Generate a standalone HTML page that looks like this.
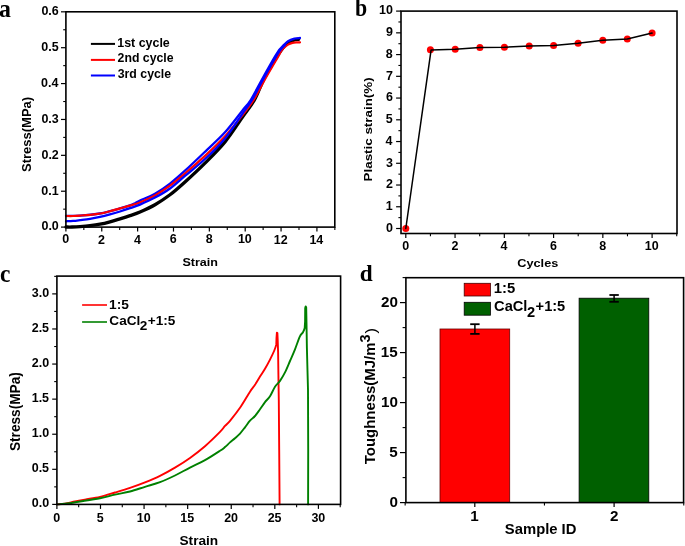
<!DOCTYPE html>
<html><head><meta charset="utf-8"><style>
html,body{margin:0;padding:0;background:#fff;}
body{width:685px;height:546px;overflow:hidden;}
svg{display:block;will-change:transform;}
</style></head><body>
<svg width="685" height="546" viewBox="0 0 685 546">
<rect width="685" height="546" fill="#fff"/>
<path d="M66,227 C67,227 69.67,227.07 72,227 C74.33,226.93 77,226.82 80,226.6 C83,226.38 86.67,226.1 90,225.7 C93.33,225.3 96.67,224.85 100,224.2 C103.33,223.55 106.67,222.7 110,221.8 C113.33,220.9 116.67,219.83 120,218.8 C123.33,217.77 126.67,216.73 130,215.6 C133.33,214.47 135.83,213.82 140,212 C144.17,210.18 150,207.57 155,204.7 C160,201.83 165,198.58 170,194.8 C175,191.02 179.17,187.28 185,182 C190.83,176.72 198.33,169.78 205,163.1 C211.67,156.42 218.75,149.57 225,141.9 C231.25,134.23 237.6,124.08 242.5,117.1 C247.4,110.12 250.9,106.18 254.4,100 C257.9,93.82 260.1,86.67 263.5,80 C266.9,73.33 271.88,64.92 274.8,60 C277.72,55.08 278.8,53.37 281,50.5 C283.2,47.63 285.72,44.58 288,42.8 C290.28,41.02 292.93,40.38 294.7,39.8 C296.47,39.22 297.95,39.38 298.6,39.3" fill="none" stroke="#000" stroke-width="3.3" stroke-linejoin="round" stroke-linecap="round"/>
<path d="M66,216 C68.33,215.93 74.33,216.02 80,215.6 C85.67,215.18 95,214.23 100,213.5 C105,212.77 106.67,212.05 110,211.2 C113.33,210.35 116.67,209.38 120,208.4 C123.33,207.42 127.5,206.17 130,205.3 C132.5,204.43 133.33,203.98 135,203.2 C136.67,202.42 136.67,202.18 140,200.6 C143.33,199.02 150,196.53 155,193.7 C160,190.87 165,187.43 170,183.6 C175,179.77 179.17,176 185,170.7 C190.83,165.4 198.33,158.2 205,151.8 C211.67,145.4 218.75,139.2 225,132.3 C231.25,125.4 238.22,115.78 242.5,110.4 C246.78,105.02 247.5,105.07 250.7,100 C253.9,94.93 258,86.67 261.7,80 C265.4,73.33 270.25,64.62 272.9,60 C275.55,55.38 276.33,54.2 277.6,52.3 C278.87,50.4 278.75,50.43 280.5,48.6 C282.25,46.77 285.73,42.98 288.1,41.3 C290.47,39.62 292.72,39.05 294.7,38.5 C296.68,37.95 299.12,38.08 300,38" fill="none" stroke="#0000ff" stroke-width="2.3" stroke-linejoin="round" stroke-linecap="round"/>
<path d="M66,216 C67.17,216 70.67,216.07 73,216 C75.33,215.93 77.17,215.8 80,215.6 C82.83,215.4 86.67,215.15 90,214.8 C93.33,214.45 96.67,214.1 100,213.5 C103.33,212.9 106.67,212.05 110,211.2 C113.33,210.35 116.67,209.33 120,208.4 C123.33,207.47 126.67,206.6 130,205.6 C133.33,204.6 135.83,204.08 140,202.4 C144.17,200.72 150,198.28 155,195.5 C160,192.72 165,189.37 170,185.7 C175,182.03 179.17,178.47 185,173.5 C190.83,168.53 198.33,162.12 205,155.9 C211.67,149.68 218.75,142.98 225,136.2 C231.25,129.42 237.72,121.23 242.5,115.2 C247.28,109.17 250.02,105.87 253.7,100 C257.38,94.13 260.85,86.67 264.6,80 C268.35,73.33 273.37,64.92 276.2,60 C279.03,55.08 280.33,52.52 281.6,50.5 C282.87,48.48 282.72,48.88 283.8,47.9 C284.88,46.92 286.65,45.43 288.1,44.6 C289.55,43.77 291.03,43.27 292.5,42.9 C293.97,42.53 295.65,42.5 296.9,42.4 C298.15,42.3 299.48,42.32 300,42.3" fill="none" stroke="#ff0000" stroke-width="2.2" stroke-linejoin="round" stroke-linecap="round"/>
<path d="M66,221.3 C67.17,221.23 70.67,221.1 73,220.9 C75.33,220.7 77.17,220.45 80,220.1 C82.83,219.75 86.67,219.33 90,218.8 C93.33,218.27 96.67,217.63 100,216.9 C103.33,216.17 106.67,215.3 110,214.4 C113.33,213.5 116.67,212.53 120,211.5 C123.33,210.47 126.67,209.35 130,208.2 C133.33,207.05 135.83,206.37 140,204.6 C144.17,202.83 150,200.28 155,197.6 C160,194.92 165,192.12 170,188.5 C175,184.88 179.17,180.82 185,175.9 C190.83,170.98 198.33,165.25 205,159 C211.67,152.75 218.75,145.97 225,138.4 C231.25,130.83 238,120 242.5,113.6 C247,107.2 248.62,105.6 252,100 C255.38,94.4 259.13,86.67 262.8,80 C266.47,73.33 271.22,64.83 274,60 C276.78,55.17 277.67,53.5 279.5,51 C281.33,48.5 284.08,46 285,45" fill="none" stroke="#0000ff" stroke-width="2.3" stroke-linejoin="round" stroke-linecap="round"/>
<rect x="65.9" y="11.8" width="268.9" height="215.3" fill="none" stroke="#000" stroke-width="1.6"/>
<line x1="61" y1="227.1" x2="65.9" y2="227.1" stroke="#000" stroke-width="1.2"/>
<text transform="translate(41.46 230.38) scale(1.0400 1)" font-size="12.00" font-weight="bold" font-family='"Liberation Sans", sans-serif'>0.0</text>
<line x1="61" y1="191.22" x2="65.9" y2="191.22" stroke="#000" stroke-width="1.2"/>
<text transform="translate(41.3 194.5) scale(1.0400 1)" font-size="12.00" font-weight="bold" font-family='"Liberation Sans", sans-serif'>0.1</text>
<line x1="61" y1="155.34" x2="65.9" y2="155.34" stroke="#000" stroke-width="1.2"/>
<text transform="translate(41.45 158.62) scale(1.0400 1)" font-size="12.00" font-weight="bold" font-family='"Liberation Sans", sans-serif'>0.2</text>
<line x1="61" y1="119.46" x2="65.9" y2="119.46" stroke="#000" stroke-width="1.2"/>
<text transform="translate(41.4 122.73) scale(1.0400 1)" font-size="12.00" font-weight="bold" font-family='"Liberation Sans", sans-serif'>0.3</text>
<line x1="61" y1="83.58" x2="65.9" y2="83.58" stroke="#000" stroke-width="1.2"/>
<text transform="translate(41.02 86.86) scale(1.0400 1)" font-size="12.00" font-weight="bold" font-family='"Liberation Sans", sans-serif'>0.4</text>
<line x1="61" y1="47.7" x2="65.9" y2="47.7" stroke="#000" stroke-width="1.2"/>
<text transform="translate(41.3 50.98) scale(1.0400 1)" font-size="12.00" font-weight="bold" font-family='"Liberation Sans", sans-serif'>0.5</text>
<line x1="61" y1="11.82" x2="65.9" y2="11.82" stroke="#000" stroke-width="1.2"/>
<text transform="translate(41.4 15.1) scale(1.0400 1)" font-size="12.00" font-weight="bold" font-family='"Liberation Sans", sans-serif'>0.6</text>
<line x1="63.2" y1="209.16" x2="65.9" y2="209.16" stroke="#000" stroke-width="1.1"/>
<line x1="63.2" y1="173.28" x2="65.9" y2="173.28" stroke="#000" stroke-width="1.1"/>
<line x1="63.2" y1="137.4" x2="65.9" y2="137.4" stroke="#000" stroke-width="1.1"/>
<line x1="63.2" y1="101.52" x2="65.9" y2="101.52" stroke="#000" stroke-width="1.1"/>
<line x1="63.2" y1="65.64" x2="65.9" y2="65.64" stroke="#000" stroke-width="1.1"/>
<line x1="63.2" y1="29.76" x2="65.9" y2="29.76" stroke="#000" stroke-width="1.1"/>
<line x1="65.9" y1="227.1" x2="65.9" y2="231.6" stroke="#000" stroke-width="1.2"/>
<text transform="translate(62.24 243.48) scale(1.0400 1)" font-size="12.00" font-weight="bold" font-family='"Liberation Sans", sans-serif'>0</text>
<line x1="101.76" y1="227.1" x2="101.76" y2="231.6" stroke="#000" stroke-width="1.2"/>
<text transform="translate(98.12 243.6) scale(1.0400 1)" font-size="12.00" font-weight="bold" font-family='"Liberation Sans", sans-serif'>2</text>
<line x1="137.62" y1="227.1" x2="137.62" y2="231.6" stroke="#000" stroke-width="1.2"/>
<text transform="translate(133.89 243.6) scale(1.0400 1)" font-size="12.00" font-weight="bold" font-family='"Liberation Sans", sans-serif'>4</text>
<line x1="173.48" y1="227.1" x2="173.48" y2="231.6" stroke="#000" stroke-width="1.2"/>
<text transform="translate(169.8 243.48) scale(1.0400 1)" font-size="12.00" font-weight="bold" font-family='"Liberation Sans", sans-serif'>6</text>
<line x1="209.34" y1="227.1" x2="209.34" y2="231.6" stroke="#000" stroke-width="1.2"/>
<text transform="translate(205.66 243.48) scale(1.0400 1)" font-size="12.00" font-weight="bold" font-family='"Liberation Sans", sans-serif'>8</text>
<line x1="245.2" y1="227.1" x2="245.2" y2="231.6" stroke="#000" stroke-width="1.2"/>
<text transform="translate(237.92 243.48) scale(1.0400 1)" font-size="12.00" font-weight="bold" font-family='"Liberation Sans", sans-serif'>10</text>
<line x1="281.06" y1="227.1" x2="281.06" y2="231.6" stroke="#000" stroke-width="1.2"/>
<text transform="translate(273.78 243.6) scale(1.0400 1)" font-size="12.00" font-weight="bold" font-family='"Liberation Sans", sans-serif'>12</text>
<line x1="316.92" y1="227.1" x2="316.92" y2="231.6" stroke="#000" stroke-width="1.2"/>
<text transform="translate(309.42 243.6) scale(1.0400 1)" font-size="12.00" font-weight="bold" font-family='"Liberation Sans", sans-serif'>14</text>
<line x1="83.83" y1="227.1" x2="83.83" y2="229.9" stroke="#000" stroke-width="1.1"/>
<line x1="119.69" y1="227.1" x2="119.69" y2="229.9" stroke="#000" stroke-width="1.1"/>
<line x1="155.55" y1="227.1" x2="155.55" y2="229.9" stroke="#000" stroke-width="1.1"/>
<line x1="191.41" y1="227.1" x2="191.41" y2="229.9" stroke="#000" stroke-width="1.1"/>
<line x1="227.27" y1="227.1" x2="227.27" y2="229.9" stroke="#000" stroke-width="1.1"/>
<line x1="263.13" y1="227.1" x2="263.13" y2="229.9" stroke="#000" stroke-width="1.1"/>
<line x1="298.99" y1="227.1" x2="298.99" y2="229.9" stroke="#000" stroke-width="1.1"/>
<line x1="334.85" y1="227.1" x2="334.85" y2="229.9" stroke="#000" stroke-width="1.1"/>
<text transform="translate(182.44 265.78) scale(1.0718 1)" font-size="11.70" font-weight="bold" font-family='"Liberation Sans", sans-serif'>Strain</text>
<text transform="translate(31.15 171.98) rotate(-90) scale(1.0204 1)" font-size="12.75" font-weight="bold" font-family='"Liberation Sans", sans-serif'>Stress(MPa)</text>
<line x1="90.9" y1="43.9" x2="115" y2="43.9" stroke="#000" stroke-width="2.0"/>
<text transform="translate(117.22 46.79) scale(1.0043 1)" font-size="12.40" font-weight="bold" font-family='"Liberation Sans", sans-serif'>1st cycle</text>
<line x1="90.9" y1="59.9" x2="115" y2="59.9" stroke="#ff0000" stroke-width="2.0"/>
<text transform="translate(117.57 62.49) scale(0.9918 1)" font-size="12.40" font-weight="bold" font-family='"Liberation Sans", sans-serif'>2nd cycle</text>
<line x1="90.9" y1="75.5" x2="115" y2="75.5" stroke="#0000ff" stroke-width="2.0"/>
<text transform="translate(117.72 78.19) scale(1.0063 1)" font-size="12.26" font-weight="bold" font-family='"Liberation Sans", sans-serif'>3rd cycle</text>
<text transform="translate(-1.06 16.94) scale(0.9210 1)" font-size="25.89" font-weight="bold" font-family='"Liberation Serif", serif'>a</text>
<rect x="401" y="11.1" width="276" height="222.4" fill="none" stroke="#000" stroke-width="1.6"/>
<line x1="396.1" y1="228.5" x2="401" y2="228.5" stroke="#000" stroke-width="1.2"/>
<text transform="translate(385.97 231.78) scale(1.0400 1)" font-size="12.00" font-weight="bold" font-family='"Liberation Sans", sans-serif'>0</text>
<line x1="396.1" y1="206.76" x2="401" y2="206.76" stroke="#000" stroke-width="1.2"/>
<text transform="translate(385.81 210.16) scale(1.0400 1)" font-size="12.00" font-weight="bold" font-family='"Liberation Sans", sans-serif'>1</text>
<line x1="396.1" y1="185.02" x2="401" y2="185.02" stroke="#000" stroke-width="1.2"/>
<text transform="translate(385.96 188.42) scale(1.0400 1)" font-size="12.00" font-weight="bold" font-family='"Liberation Sans", sans-serif'>2</text>
<line x1="396.1" y1="163.28" x2="401" y2="163.28" stroke="#000" stroke-width="1.2"/>
<text transform="translate(385.91 166.55) scale(1.0400 1)" font-size="12.00" font-weight="bold" font-family='"Liberation Sans", sans-serif'>3</text>
<line x1="396.1" y1="141.54" x2="401" y2="141.54" stroke="#000" stroke-width="1.2"/>
<text transform="translate(385.52 144.94) scale(1.0400 1)" font-size="12.00" font-weight="bold" font-family='"Liberation Sans", sans-serif'>4</text>
<line x1="396.1" y1="119.8" x2="401" y2="119.8" stroke="#000" stroke-width="1.2"/>
<text transform="translate(385.81 123.08) scale(1.0400 1)" font-size="12.00" font-weight="bold" font-family='"Liberation Sans", sans-serif'>5</text>
<line x1="396.1" y1="98.06" x2="401" y2="98.06" stroke="#000" stroke-width="1.2"/>
<text transform="translate(385.91 101.34) scale(1.0400 1)" font-size="12.00" font-weight="bold" font-family='"Liberation Sans", sans-serif'>6</text>
<line x1="396.1" y1="76.32" x2="401" y2="76.32" stroke="#000" stroke-width="1.2"/>
<text transform="translate(386.01 79.72) scale(1.0400 1)" font-size="12.00" font-weight="bold" font-family='"Liberation Sans", sans-serif'>7</text>
<line x1="396.1" y1="54.58" x2="401" y2="54.58" stroke="#000" stroke-width="1.2"/>
<text transform="translate(385.85 57.86) scale(1.0400 1)" font-size="12.00" font-weight="bold" font-family='"Liberation Sans", sans-serif'>8</text>
<line x1="396.1" y1="32.84" x2="401" y2="32.84" stroke="#000" stroke-width="1.2"/>
<text transform="translate(385.92 36.12) scale(1.0400 1)" font-size="12.00" font-weight="bold" font-family='"Liberation Sans", sans-serif'>9</text>
<line x1="396.1" y1="11.1" x2="401" y2="11.1" stroke="#000" stroke-width="1.2"/>
<text transform="translate(379.03 14.38) scale(1.0400 1)" font-size="12.00" font-weight="bold" font-family='"Liberation Sans", sans-serif'>10</text>
<line x1="398.4" y1="217.63" x2="401" y2="217.63" stroke="#000" stroke-width="1.1"/>
<line x1="398.4" y1="195.89" x2="401" y2="195.89" stroke="#000" stroke-width="1.1"/>
<line x1="398.4" y1="174.15" x2="401" y2="174.15" stroke="#000" stroke-width="1.1"/>
<line x1="398.4" y1="152.41" x2="401" y2="152.41" stroke="#000" stroke-width="1.1"/>
<line x1="398.4" y1="130.67" x2="401" y2="130.67" stroke="#000" stroke-width="1.1"/>
<line x1="398.4" y1="108.93" x2="401" y2="108.93" stroke="#000" stroke-width="1.1"/>
<line x1="398.4" y1="87.19" x2="401" y2="87.19" stroke="#000" stroke-width="1.1"/>
<line x1="398.4" y1="65.45" x2="401" y2="65.45" stroke="#000" stroke-width="1.1"/>
<line x1="398.4" y1="43.71" x2="401" y2="43.71" stroke="#000" stroke-width="1.1"/>
<line x1="398.4" y1="21.97" x2="401" y2="21.97" stroke="#000" stroke-width="1.1"/>
<line x1="405.8" y1="233.5" x2="405.8" y2="238" stroke="#000" stroke-width="1.2"/>
<text transform="translate(402.14 249.68) scale(1.0400 1)" font-size="12.00" font-weight="bold" font-family='"Liberation Sans", sans-serif'>0</text>
<line x1="455.06" y1="233.5" x2="455.06" y2="238" stroke="#000" stroke-width="1.2"/>
<text transform="translate(451.42 249.8) scale(1.0400 1)" font-size="12.00" font-weight="bold" font-family='"Liberation Sans", sans-serif'>2</text>
<line x1="504.32" y1="233.5" x2="504.32" y2="238" stroke="#000" stroke-width="1.2"/>
<text transform="translate(500.59 249.8) scale(1.0400 1)" font-size="12.00" font-weight="bold" font-family='"Liberation Sans", sans-serif'>4</text>
<line x1="553.58" y1="233.5" x2="553.58" y2="238" stroke="#000" stroke-width="1.2"/>
<text transform="translate(549.9 249.68) scale(1.0400 1)" font-size="12.00" font-weight="bold" font-family='"Liberation Sans", sans-serif'>6</text>
<line x1="602.84" y1="233.5" x2="602.84" y2="238" stroke="#000" stroke-width="1.2"/>
<text transform="translate(599.16 249.68) scale(1.0400 1)" font-size="12.00" font-weight="bold" font-family='"Liberation Sans", sans-serif'>8</text>
<line x1="652.1" y1="233.5" x2="652.1" y2="238" stroke="#000" stroke-width="1.2"/>
<text transform="translate(644.82 249.68) scale(1.0400 1)" font-size="12.00" font-weight="bold" font-family='"Liberation Sans", sans-serif'>10</text>
<line x1="430.43" y1="233.5" x2="430.43" y2="236.3" stroke="#000" stroke-width="1.1"/>
<line x1="479.69" y1="233.5" x2="479.69" y2="236.3" stroke="#000" stroke-width="1.1"/>
<line x1="528.95" y1="233.5" x2="528.95" y2="236.3" stroke="#000" stroke-width="1.1"/>
<line x1="578.21" y1="233.5" x2="578.21" y2="236.3" stroke="#000" stroke-width="1.1"/>
<line x1="627.47" y1="233.5" x2="627.47" y2="236.3" stroke="#000" stroke-width="1.1"/>
<line x1="676.73" y1="233.5" x2="676.73" y2="236.3" stroke="#000" stroke-width="1.1"/>
<circle cx="405.8" cy="228.5" r="3.5" fill="#ff0000"/>
<circle cx="430.4" cy="49.7" r="3.5" fill="#ff0000"/>
<circle cx="455.2" cy="49.3" r="3.5" fill="#ff0000"/>
<circle cx="479.9" cy="47.6" r="3.5" fill="#ff0000"/>
<circle cx="504.4" cy="47.3" r="3.5" fill="#ff0000"/>
<circle cx="529.2" cy="45.9" r="3.5" fill="#ff0000"/>
<circle cx="553.6" cy="45.6" r="3.5" fill="#ff0000"/>
<circle cx="578.1" cy="43.3" r="3.5" fill="#ff0000"/>
<circle cx="602.8" cy="40.3" r="3.5" fill="#ff0000"/>
<circle cx="627.3" cy="38.9" r="3.5" fill="#ff0000"/>
<circle cx="652.1" cy="33.1" r="3.5" fill="#ff0000"/>
<polyline points="405.8,228.5 431.1,49.9 455.2,49.3 479.9,47.6 504.4,47.3 529.2,45.9 553.6,45.6 578.1,43.3 602.8,40.3 627.3,38.9 652.1,33.1" fill="none" stroke="#000" stroke-width="1.5" stroke-linejoin="round" stroke-linecap="round" />
<text transform="translate(517.28 267.06) scale(1.1312 1)" font-size="11.25" font-weight="bold" font-family='"Liberation Sans", sans-serif'>Cycles</text>
<text transform="translate(371.93 181.4) rotate(-90) scale(1.2247 1)" font-size="10.93" font-weight="bold" font-family='"Liberation Sans", sans-serif'>Plastic strain(%)</text>
<text transform="translate(355.02 16.46) scale(0.9003 1)" font-size="24.29" font-weight="bold" font-family='"Liberation Serif", serif'>b</text>
<path d="M57,504.4 C58.33,504.27 62,504.08 65,503.6 C68,503.12 71.67,502.17 75,501.5 C78.33,500.83 80.83,500.37 85,499.6 C89.17,498.83 95,498.08 100,496.9 C105,495.72 110,494.02 115,492.5 C120,490.98 125,489.5 130,487.8 C135,486.1 140,484.3 145,482.3 C150,480.3 155,478.25 160,475.8 C165,473.35 170,470.58 175,467.6 C180,464.62 185,461.47 190,457.9 C195,454.33 200,450.53 205,446.2 C210,441.87 216.67,435.28 220,431.9 C223.33,428.52 223.33,427.75 225,425.9 C226.67,424.05 227.5,423.82 230,420.8 C232.5,417.78 236.67,412.65 240,407.8 C243.33,402.95 247.5,395.53 250,391.7 C252.5,387.87 253.33,387.32 255,384.8 C256.67,382.28 258.33,379.27 260,376.6 C261.67,373.93 263.33,371.63 265,368.8 C266.67,365.97 268.45,362.65 270,359.6 C271.55,356.55 273.25,353.03 274.3,350.5 C275.35,347.97 275.93,346.48 276.3,344.4 L276.5,338 L276.9,332.6 L277.4,333.2 L277.7,340 L278.1,352 L278.4,374.6 L278.8,400 L279.2,450 L279.6,504.4" fill="none" stroke="#ff0000" stroke-width="1.9" stroke-linejoin="round" stroke-linecap="round"/>
<path d="M57,504.4 C58.33,504.3 61.17,504.28 65,503.8 C68.83,503.32 74.17,502.43 80,501.5 C85.83,500.57 94.17,499.35 100,498.2 C105.83,497.05 110,495.72 115,494.6 C120,493.48 125,492.8 130,491.5 C135,490.2 140,488.35 145,486.8 C150,485.25 155,484.08 160,482.2 C165,480.32 170,477.93 175,475.5 C180,473.07 185,470.15 190,467.6 C195,465.05 200,463 205,460.2 C210,457.4 216.67,452.98 220,450.8 C223.33,448.62 223.33,448.5 225,447.1 C226.67,445.7 228.33,443.87 230,442.4 C231.67,440.93 233.33,439.77 235,438.3 C236.67,436.83 238.33,435.43 240,433.6 C241.67,431.77 243.33,429.45 245,427.3 C246.67,425.15 248.33,422.58 250,420.7 C251.67,418.82 253.33,417.9 255,416 C256.67,414.1 258.33,411.62 260,409.3 C261.67,406.98 263.33,404.27 265,402.1 C266.67,399.93 268.33,398.87 270,396.3 C271.67,393.73 273.33,389.27 275,386.7 C276.67,384.13 278.33,383.28 280,380.9 C281.67,378.52 283.33,375.72 285,372.4 C286.67,369.08 288.33,364.85 290,361 C291.67,357.15 293.37,353.37 295,349.3 C296.63,345.23 298.47,339.45 299.8,336.6 C301.13,333.75 302.18,333.63 303,332.2 C303.82,330.77 304.35,329.78 304.7,328 L305.1,321.5 L305.2,308 L305.7,306.4 L306.2,307.5 L306.5,323 L306.9,348 L307.5,371 L308,390 L308.2,450 L308.1,504.4" fill="none" stroke="#008000" stroke-width="1.9" stroke-linejoin="round" stroke-linecap="round"/>
<rect x="56.9" y="276.1" width="283.7" height="228.3" fill="none" stroke="#000" stroke-width="1.6"/>
<line x1="52.2" y1="504.4" x2="56.9" y2="504.4" stroke="#000" stroke-width="1.2"/>
<text transform="translate(31.86 507.28) scale(1.0400 1)" font-size="12.00" font-weight="bold" font-family='"Liberation Sans", sans-serif'>0.0</text>
<line x1="52.2" y1="469.31" x2="56.9" y2="469.31" stroke="#000" stroke-width="1.2"/>
<text transform="translate(31.7 472.19) scale(1.0400 1)" font-size="12.00" font-weight="bold" font-family='"Liberation Sans", sans-serif'>0.5</text>
<line x1="52.2" y1="434.23" x2="56.9" y2="434.23" stroke="#000" stroke-width="1.2"/>
<text transform="translate(31.86 437.11) scale(1.0400 1)" font-size="12.00" font-weight="bold" font-family='"Liberation Sans", sans-serif'>1.0</text>
<line x1="52.2" y1="399.14" x2="56.9" y2="399.14" stroke="#000" stroke-width="1.2"/>
<text transform="translate(31.7 402.02) scale(1.0400 1)" font-size="12.00" font-weight="bold" font-family='"Liberation Sans", sans-serif'>1.5</text>
<line x1="52.2" y1="364.06" x2="56.9" y2="364.06" stroke="#000" stroke-width="1.2"/>
<text transform="translate(31.86 366.94) scale(1.0400 1)" font-size="12.00" font-weight="bold" font-family='"Liberation Sans", sans-serif'>2.0</text>
<line x1="52.2" y1="328.97" x2="56.9" y2="328.97" stroke="#000" stroke-width="1.2"/>
<text transform="translate(31.7 331.85) scale(1.0400 1)" font-size="12.00" font-weight="bold" font-family='"Liberation Sans", sans-serif'>2.5</text>
<line x1="52.2" y1="293.89" x2="56.9" y2="293.89" stroke="#000" stroke-width="1.2"/>
<text transform="translate(31.86 296.76) scale(1.0400 1)" font-size="12.00" font-weight="bold" font-family='"Liberation Sans", sans-serif'>3.0</text>
<line x1="54.2" y1="486.86" x2="56.9" y2="486.86" stroke="#000" stroke-width="1.1"/>
<line x1="54.2" y1="451.77" x2="56.9" y2="451.77" stroke="#000" stroke-width="1.1"/>
<line x1="54.2" y1="416.69" x2="56.9" y2="416.69" stroke="#000" stroke-width="1.1"/>
<line x1="54.2" y1="381.6" x2="56.9" y2="381.6" stroke="#000" stroke-width="1.1"/>
<line x1="54.2" y1="346.52" x2="56.9" y2="346.52" stroke="#000" stroke-width="1.1"/>
<line x1="54.2" y1="311.43" x2="56.9" y2="311.43" stroke="#000" stroke-width="1.1"/>
<line x1="54.2" y1="276.35" x2="56.9" y2="276.35" stroke="#000" stroke-width="1.1"/>
<line x1="56.9" y1="504.4" x2="56.9" y2="508.9" stroke="#000" stroke-width="1.2"/>
<text transform="translate(53.24 521.78) scale(1.0400 1)" font-size="12.00" font-weight="bold" font-family='"Liberation Sans", sans-serif'>0</text>
<line x1="100.48" y1="504.4" x2="100.48" y2="508.9" stroke="#000" stroke-width="1.2"/>
<text transform="translate(96.8 521.78) scale(1.0400 1)" font-size="12.00" font-weight="bold" font-family='"Liberation Sans", sans-serif'>5</text>
<line x1="144.07" y1="504.4" x2="144.07" y2="508.9" stroke="#000" stroke-width="1.2"/>
<text transform="translate(136.79 521.78) scale(1.0400 1)" font-size="12.00" font-weight="bold" font-family='"Liberation Sans", sans-serif'>10</text>
<line x1="187.66" y1="504.4" x2="187.66" y2="508.9" stroke="#000" stroke-width="1.2"/>
<text transform="translate(180.3 521.78) scale(1.0400 1)" font-size="12.00" font-weight="bold" font-family='"Liberation Sans", sans-serif'>15</text>
<line x1="231.24" y1="504.4" x2="231.24" y2="508.9" stroke="#000" stroke-width="1.2"/>
<text transform="translate(224.14 521.78) scale(1.0400 1)" font-size="12.00" font-weight="bold" font-family='"Liberation Sans", sans-serif'>20</text>
<line x1="274.82" y1="504.4" x2="274.82" y2="508.9" stroke="#000" stroke-width="1.2"/>
<text transform="translate(267.64 521.78) scale(1.0400 1)" font-size="12.00" font-weight="bold" font-family='"Liberation Sans", sans-serif'>25</text>
<line x1="318.41" y1="504.4" x2="318.41" y2="508.9" stroke="#000" stroke-width="1.2"/>
<text transform="translate(311.38 521.77) scale(1.0400 1)" font-size="12.00" font-weight="bold" font-family='"Liberation Sans", sans-serif'>30</text>
<line x1="78.69" y1="504.4" x2="78.69" y2="507.2" stroke="#000" stroke-width="1.1"/>
<line x1="122.28" y1="504.4" x2="122.28" y2="507.2" stroke="#000" stroke-width="1.1"/>
<line x1="165.86" y1="504.4" x2="165.86" y2="507.2" stroke="#000" stroke-width="1.1"/>
<line x1="209.45" y1="504.4" x2="209.45" y2="507.2" stroke="#000" stroke-width="1.1"/>
<line x1="253.03" y1="504.4" x2="253.03" y2="507.2" stroke="#000" stroke-width="1.1"/>
<line x1="296.62" y1="504.4" x2="296.62" y2="507.2" stroke="#000" stroke-width="1.1"/>
<line x1="340.2" y1="504.4" x2="340.2" y2="507.2" stroke="#000" stroke-width="1.1"/>
<text transform="translate(179.5 544.98) scale(1.1042 1)" font-size="12.38" font-weight="bold" font-family='"Liberation Sans", sans-serif'>Strain</text>
<text transform="translate(20.45 451.1) rotate(-90) scale(0.9960 1)" font-size="13.72" font-weight="bold" font-family='"Liberation Sans", sans-serif'>Stress(MPa)</text>
<line x1="82.1" y1="305" x2="107" y2="305" stroke="#ff0000" stroke-width="1.6"/>
<line x1="82.1" y1="322" x2="107" y2="322" stroke="#008000" stroke-width="1.6"/>
<text transform="translate(109.03 308.57) scale(1.0896 1)" font-size="12.61" font-weight="bold" font-family='"Liberation Sans", sans-serif'>1:5</text>
<text transform="translate(109.34 324.98) scale(1.1078 1)" font-size="12.29" font-weight="bold" font-family='"Liberation Sans", sans-serif'>CaCl</text>
<text transform="translate(139.82 329.8) scale(1.1078 1)" font-size="12.29" font-weight="bold" font-family='"Liberation Sans", sans-serif'>2</text>
<text transform="translate(147.73 324.98) scale(1.1078 1)" font-size="12.29" font-weight="bold" font-family='"Liberation Sans", sans-serif'>+1:5</text>
<text transform="translate(0.11 281.76) scale(0.8905 1)" font-size="26.25" font-weight="bold" font-family='"Liberation Serif", serif'>c</text>
<rect x="440.0" y="329.0" width="69.7" height="173.6" fill="#ff0000" stroke="#600" stroke-width="0.8"/>
<rect x="579.1" y="298.2" width="69.7" height="204.4" fill="#006000" stroke="#000" stroke-width="0.8"/>
<line x1="474.9" y1="324.2" x2="474.9" y2="333.9" stroke="#000" stroke-width="1.5"/>
<line x1="470.2" y1="324.2" x2="479.6" y2="324.2" stroke="#000" stroke-width="1.8"/>
<line x1="470.2" y1="333.9" x2="479.6" y2="333.9" stroke="#000" stroke-width="1.8"/>
<line x1="614.1" y1="295" x2="614.1" y2="301.8" stroke="#000" stroke-width="1.5"/>
<line x1="609.4" y1="295" x2="618.8" y2="295" stroke="#000" stroke-width="1.8"/>
<line x1="609.4" y1="301.8" x2="618.8" y2="301.8" stroke="#000" stroke-width="1.8"/>
<rect x="405.9" y="277.7" width="277.7" height="224.9" fill="none" stroke="#000" stroke-width="1.6"/>
<line x1="400" y1="502.6" x2="405.9" y2="502.6" stroke="#000" stroke-width="1.2"/>
<text transform="translate(389.47 506.75) scale(1.0000 1)" font-size="15.20" font-weight="bold" font-family='"Liberation Sans", sans-serif'>0</text>
<line x1="400" y1="452.6" x2="405.9" y2="452.6" stroke="#000" stroke-width="1.2"/>
<text transform="translate(389.27 456.75) scale(1.0000 1)" font-size="15.20" font-weight="bold" font-family='"Liberation Sans", sans-serif'>5</text>
<line x1="400" y1="402.6" x2="405.9" y2="402.6" stroke="#000" stroke-width="1.2"/>
<text transform="translate(381.02 406.75) scale(1.0000 1)" font-size="15.20" font-weight="bold" font-family='"Liberation Sans", sans-serif'>10</text>
<line x1="400" y1="352.6" x2="405.9" y2="352.6" stroke="#000" stroke-width="1.2"/>
<text transform="translate(380.82 356.75) scale(1.0000 1)" font-size="15.20" font-weight="bold" font-family='"Liberation Sans", sans-serif'>15</text>
<line x1="400" y1="302.6" x2="405.9" y2="302.6" stroke="#000" stroke-width="1.2"/>
<text transform="translate(381.02 306.75) scale(1.0000 1)" font-size="15.20" font-weight="bold" font-family='"Liberation Sans", sans-serif'>20</text>
<line x1="402.6" y1="477.6" x2="405.9" y2="477.6" stroke="#000" stroke-width="1.1"/>
<line x1="402.6" y1="427.6" x2="405.9" y2="427.6" stroke="#000" stroke-width="1.1"/>
<line x1="402.6" y1="377.6" x2="405.9" y2="377.6" stroke="#000" stroke-width="1.1"/>
<line x1="402.6" y1="327.6" x2="405.9" y2="327.6" stroke="#000" stroke-width="1.1"/>
<line x1="402.6" y1="277.6" x2="405.9" y2="277.6" stroke="#000" stroke-width="1.1"/>
<line x1="474.8" y1="502.6" x2="474.8" y2="507.1" stroke="#000" stroke-width="1.2"/>
<text transform="translate(470.31 521.3) scale(1.0000 1)" font-size="15.20" font-weight="bold" font-family='"Liberation Sans", sans-serif'>1</text>
<line x1="614.1" y1="502.6" x2="614.1" y2="507.1" stroke="#000" stroke-width="1.2"/>
<text transform="translate(609.91 521.3) scale(1.0000 1)" font-size="15.20" font-weight="bold" font-family='"Liberation Sans", sans-serif'>2</text>
<line x1="405.15" y1="502.6" x2="405.15" y2="505.4" stroke="#000" stroke-width="1.1"/>
<line x1="544.45" y1="502.6" x2="544.45" y2="505.4" stroke="#000" stroke-width="1.1"/>
<line x1="683.75" y1="502.6" x2="683.75" y2="505.4" stroke="#000" stroke-width="1.1"/>
<text transform="translate(504.87 534.25) scale(0.9898 1)" font-size="14.97" font-weight="bold" font-family='"Liberation Sans", sans-serif'>Sample ID</text>
<text transform="translate(375.47 464.26) rotate(-90) scale(0.9819 1)" font-size="15.22" font-weight="bold" font-family='"Liberation Sans", sans-serif'>Toughness(MJ/m</text>
<text transform="translate(369.54 342.43) rotate(-90) scale(0.9819 1)" font-size="14.81" font-weight="bold" font-family='"Liberation Sans", sans-serif'>3</text>
<text transform="translate(375.75 333.52) rotate(-90) scale(1.1350 1)" font-size="14.68" font-weight="normal" font-family='"Liberation Sans", sans-serif'>)</text>
<rect x="464.2" y="283.3" width="26.2" height="12.7" fill="#ff0000" stroke="#400" stroke-width="0.8"/>
<rect x="464.2" y="302.3" width="26.2" height="12.9" fill="#006000" stroke="#000" stroke-width="0.8"/>
<text transform="translate(493.76 293.36) scale(1.0682 1)" font-size="13.90" font-weight="bold" font-family='"Liberation Sans", sans-serif'>1:5</text>
<text transform="translate(494.1 311.16) scale(1.0462 1)" font-size="13.98" font-weight="bold" font-family='"Liberation Sans", sans-serif'>CaCl</text>
<text transform="translate(526.89 316.5) scale(1.0462 1)" font-size="13.98" font-weight="bold" font-family='"Liberation Sans", sans-serif'>2</text>
<text transform="translate(535.59 311.16) scale(1.0462 1)" font-size="13.98" font-weight="bold" font-family='"Liberation Sans", sans-serif'>+1:5</text>
<text transform="translate(359.75 281.17) scale(1.0151 1)" font-size="22.87" font-weight="bold" font-family='"Liberation Serif", serif'>d</text>
</svg>
</body></html>
